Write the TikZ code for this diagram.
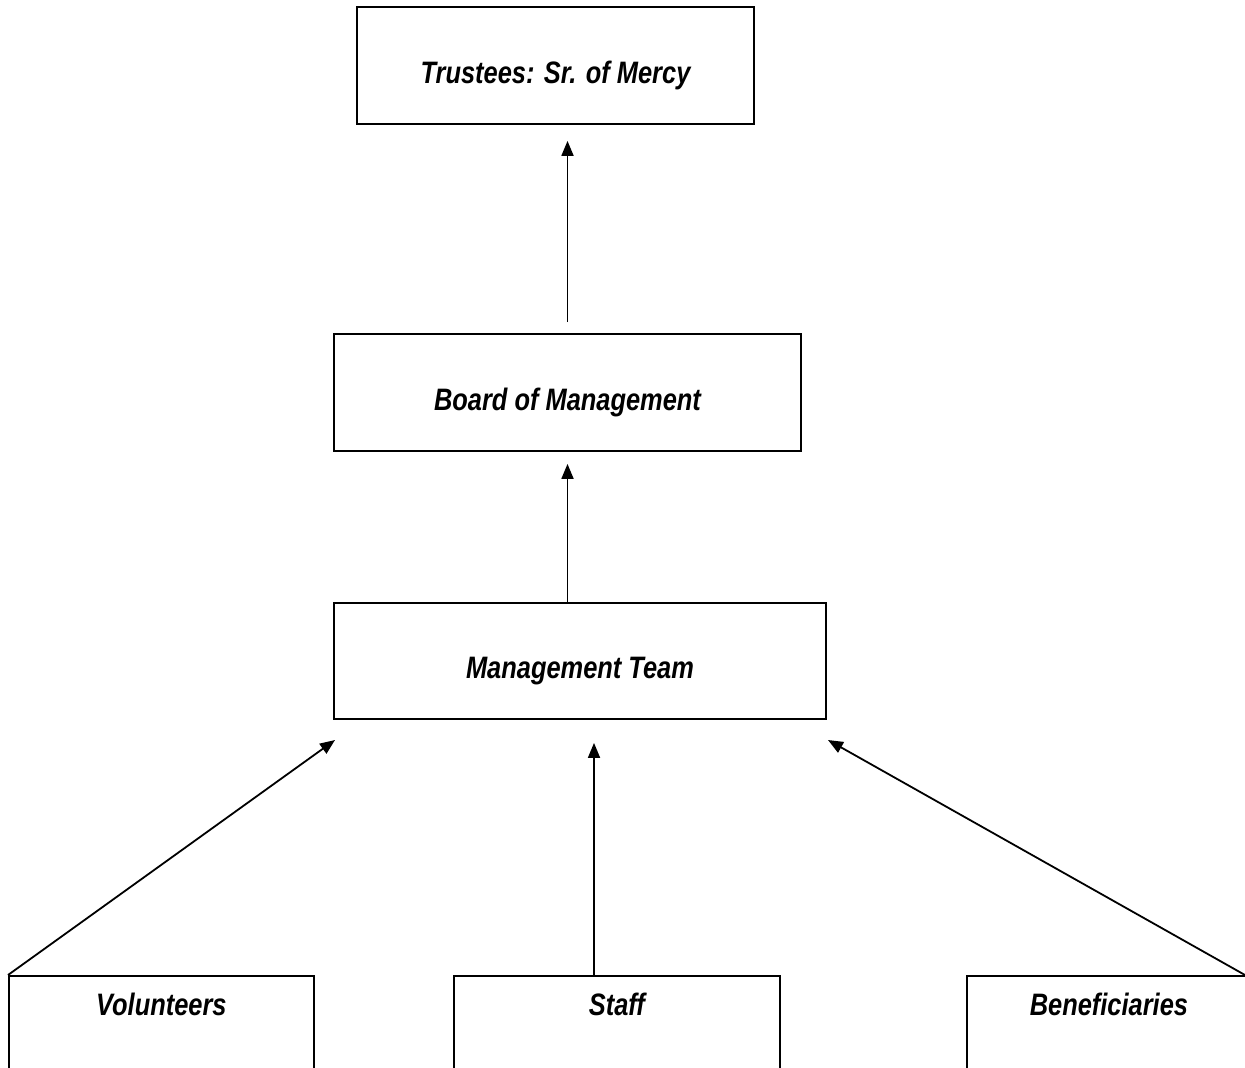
\documentclass[tikz,border=0pt]{standalone}
\usepackage{fontspec}
\setmainfont{Liberation Sans}[FakeStretch=0.82]
\usetikzlibrary{positioning, arrows.meta}
\tikzset{box/.style={draw,line width=0.9pt,inner sep=0pt,font=\bfseries\itshape\fontsize{15.5}{18}\selectfont},
         topbox/.style={box,text height=17.5pt,text depth=0pt},
         lowbox/.style={box,anchor=north west,text height=20pt,text depth=52pt},
         arr/.style={line width=0.9pt,-{Triangle[length=7.5pt,width=6pt]}},
        }

\begin{document}
\begin{tikzpicture}[x=0.5pt,y=-0.5pt]
        \clip(0,0)rectangle(1245,1067);
        \node[topbox,minimum width=198.5pt,minimum height=58.5pt](trustees)at(555.5,65.5){Trustees: Sr. of Mercy};
        \node[topbox,minimum width=233.5pt,minimum height=58.5pt](board)at(567.5,392.5){Board of Management};
        \node[topbox,minimum width=246pt,minimum height=58pt](mt)at(580,661){Management Team};
        \node[lowbox,minimum width=152.5pt](vol)at(8,975){Volunteers};
        \node[lowbox,minimum width=163pt](staff)at(453,975){Staff};
        \node[lowbox,minimum width=142pt](ben)at(966,975){Beneficiaries};

        \coordinate(stafftop)at(594,975);
        \coordinate(voltip)at(335,740);
        \coordinate(bentip)at(828,740);
        \coordinate(benstart)at(1245,975);

        \draw[arr,shorten <=5.5pt,shorten >=8pt](board.north)--(board.north |- trustees.south);
        \draw[arr,shorten >=6pt](board.south |- mt.north)--(board.south);
        \draw[arr,shorten >=11.5pt](stafftop)--(stafftop |- mt.south);
        \draw[arr](vol.north west)--(voltip);
        \draw[arr](benstart)--(bentip);
    \end{tikzpicture}
\end{document}
